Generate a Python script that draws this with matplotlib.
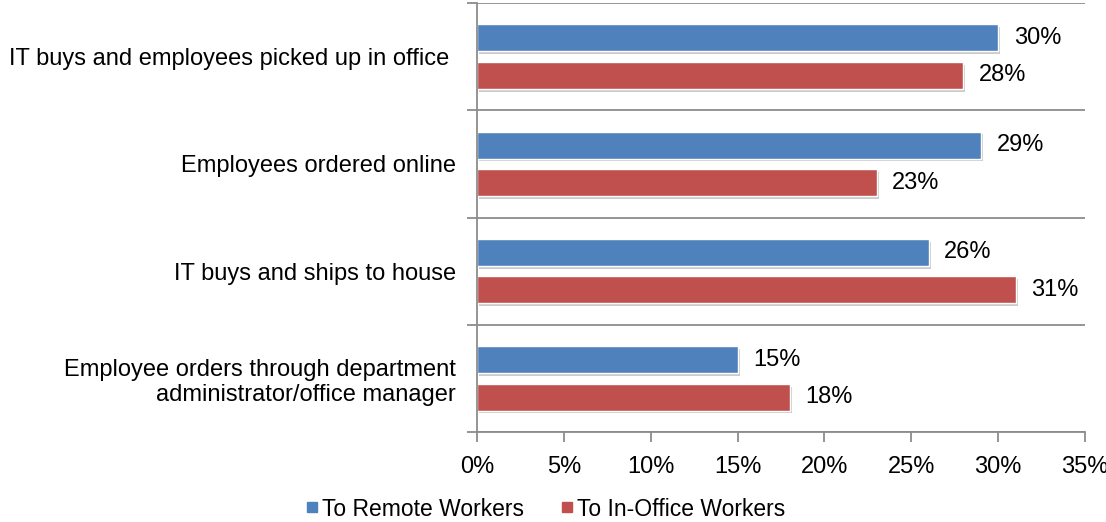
import matplotlib.pyplot as plt
import matplotlib.patheffects as pe
from matplotlib.lines import Line2D
import numpy as np

plt.rcParams['font.family'] = ['Liberation Sans', 'DejaVu Sans']

categories = ['IT buys and employees picked up in office ',
              'Employees ordered online',
              'IT buys and ships to house',
              'Employee orders through department\nadministrator/office manager']
remote = [30, 29, 26, 15]
office = [28, 23, 31, 18]
series_names = ['To Remote Workers', 'To In-Office Workers']
xticks = [0, 5, 10, 15, 20, 25, 30, 35]

blue = '#4F81BD'
red = '#C0504D'
grey = '#8C8C8C'
fs = 17

fig = plt.figure(figsize=(11.06, 5.22), dpi=100)
ax = fig.add_axes([477 / 1106, 1 - 432 / 522, (1085 - 477) / 1106, (432 - 3) / 522])

y = np.arange(len(categories))
h = 0.25
off = 0.175
shadow = [pe.SimplePatchShadow(offset=(1.5, -2), shadow_rgbFace='#999999', alpha=0.5), pe.Normal()]
b1 = ax.barh(y - off, remote, height=h, color=blue, edgecolor='white', linewidth=1,
             path_effects=shadow)
b2 = ax.barh(y + off, office, height=h, color=red, edgecolor='white', linewidth=1,
             path_effects=shadow)

for bars, vals in ((b1, remote), (b2, office)):
    for bar, v in zip(bars, vals):
        ax.text(v + 0.9, bar.get_y() + bar.get_height() / 2, f'{v}%',
                va='center', ha='left', fontsize=fs)

ax.set_ylim(len(categories) - 0.5, -0.5)
ax.set_xlim(0, 35)
ax.set_xticks(xticks)
ax.set_xticklabels([f'{t}%' for t in xticks], fontsize=fs)

# category labels centered in each band, boundary ticks as gridlines
ax.set_yticks(np.arange(len(categories) + 1) - 0.5)
ax.set_yticklabels([])
ax.set_yticks(y, minor=True)
ax.set_yticklabels(categories, minor=True, fontsize=fs, ha='right', linespacing=1.2)
ax.tick_params(axis='y', which='minor', length=0, pad=15)
ax.tick_params(axis='y', which='major', length=7, color=grey, width=1.3)
ax.tick_params(axis='x', length=7, color=grey, width=1.3, pad=10)
ax.grid(axis='y', which='major', color=grey, linewidth=1.3)
ax.set_axisbelow(True)

for s in ('top', 'right'):
    ax.spines[s].set_visible(False)
for s in ('left', 'bottom'):
    ax.spines[s].set_color(grey)
    ax.spines[s].set_linewidth(1.3)

handles = [Line2D([], [], ls='none', marker='s', markersize=7.5, color=c, label=n)
           for c, n in zip((blue, red), series_names)]
fig.legend(handles=handles, loc='center', bbox_to_anchor=(546 / 1106, 1 - 509 / 522),
           ncol=2, frameon=False, fontsize=16.5, handlelength=0.45,
           handletextpad=0.2, columnspacing=1.65)

fig.savefig('out.png', dpi=100)
